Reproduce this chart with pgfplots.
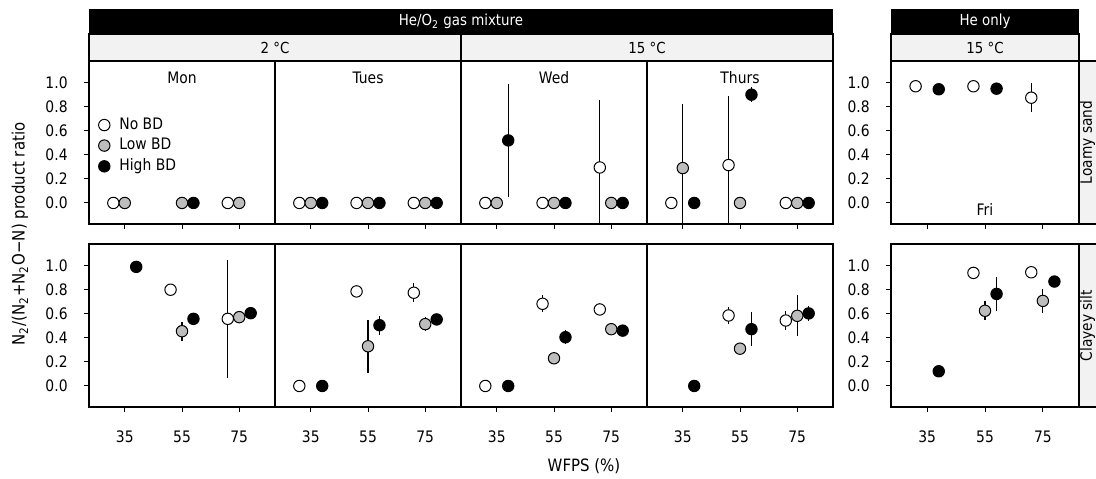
\documentclass[border=0pt]{standalone}
\usepackage{fontspec}
\setmainfont{DejaVu Sans}[FakeStretch=0.88]
\usepackage{pgfplots}
\pgfplotsset{compat=1.18}
\definecolor{stripgray}{HTML}{F2F2F2}
\definecolor{lowgray}{HTML}{BDBDBD}
\newcommand{\tkfont}{\fontsize{7.9}{9}\selectfont}
\newcommand{\stfont}{\fontsize{7.6}{9}\selectfont}
\newcommand{\lbfont}{\fontsize{8.5}{10}\selectfont}
\newcommand{\rsfont}{\fontsize{7.8}{9}\selectfont}

\pgfplotsset{
  panel/.style={
    scale only axis, width=93pt, height=81.5pt, anchor=north west,
    xmin=22.5, xmax=87.5, ymin=-0.175, ymax=1.18,
    axis line style={line width=0.6pt},
    xtick={35,55,75}, xtick pos=bottom, ytick=\empty,
    tick align=outside, major tick length=2.5pt,
    tick style={black, line width=0.5pt},
    tick label style={font=\tkfont, inner sep=0pt},
    /pgf/number format/assume math mode=true,
    xticklabel shift=9.3pt,
  },
  toprow/.style={xticklabels={}},
  leftcol/.style={
    ytick={0,0.2,0.4,0.6,0.8,1}, ytick pos=left, yticklabel shift=8pt,
    yticklabel style={/pgf/number format/.cd, fixed, fixed zerofill, precision=1},
  },
  series/.style={
    only marks, mark=*, black, mark size=2.85pt,
    mark options={fill=#1, draw=black, line width=0.5pt},
    legend image code/.code={\draw[mark repeat=2,mark phase=2,##1] plot coordinates {(0cm,0cm) (0.15cm,0cm) (0.3cm,0cm)};},
    error bars/.cd, y dir=both, y explicit, error mark=none,
    error bar style={line width=0.6pt, black},
  },
  nobd/.style={series=white},
  lowbd/.style={series=lowgray},
  highbd/.style={series=black},
}
% data rows: x  y  error
\newcommand{\pl}[2]{\addplot[#1] table[x=x, y=y, y error=e, row sep=\\] {x y e\\ #2};}

\begin{document}
\begin{tikzpicture}
\useasboundingbox (0pt,0pt) rectangle (548pt,-239pt);

% ---------- strips ----------
\fill[black] (44.5pt,-4.5pt) rectangle (416.5pt,-17pt);
\fill[black] (445.5pt,-4.5pt) rectangle (539.5pt,-17pt);
\node[white, font=\stfont] at (230.5pt,-10.75pt) {He/O\textsubscript{2} gas mixture};
\node[white, font=\stfont] at (492.5pt,-10.75pt) {He only};
\filldraw[fill=stripgray, draw=black, line width=0.6pt] (44.5pt,-17pt) rectangle (230.5pt,-30.5pt);
\filldraw[fill=stripgray, draw=black, line width=0.6pt] (230.5pt,-17pt) rectangle (416.5pt,-30.5pt);
\filldraw[fill=stripgray, draw=black, line width=0.6pt] (445.5pt,-17pt) rectangle (539.5pt,-30.5pt);
\node[font=\stfont] at (137.5pt,-23.75pt) {2 °C};
\node[font=\stfont] at (323.5pt,-23.75pt) {15 °C};
\node[font=\stfont] at (492.5pt,-23.75pt) {15 °C};
\filldraw[fill=stripgray, draw=black, line width=0.6pt] (539.5pt,-30.5pt) rectangle (552pt,-112pt);
\filldraw[fill=stripgray, draw=black, line width=0.6pt] (539.5pt,-122pt) rectangle (552pt,-203.5pt);
\node[rotate=90, anchor=base, font=\rsfont] at (545.9pt,-71.25pt) {Loamy sand};
\node[rotate=90, anchor=base, font=\rsfont] at (545.9pt,-162.75pt) {Clayey silt};

% ---------- axis titles ----------
\node[rotate=90, font=\lbfont] at (10pt,-117pt) {N\textsubscript{2}/(N\textsubscript{2}+N\textsubscript{2}O−N) product ratio};
\node[font=\lbfont] at (292pt,-233pt) {WFPS (\%)};

% ---------- Loamy sand (top row) ----------
\begin{axis}[panel, toprow, leftcol, at={(44.5pt,-30.5pt)},
  legend style={at={(0,1)}, anchor=north west, xshift=4.6pt, yshift=-27pt,
    draw=none, fill=none, font=\tkfont, inner sep=0pt, row sep=0.6pt,
    column sep=3.5pt, nodes={inner sep=1.2pt}},
  legend cell align=left]
\pl{nobd}{31 0 0\\ 71 0 0\\}
\pl{lowbd}{35 0 0\\ 55 0 0\\ 75 0 0\\}
\pl{highbd}{59 0 0\\}
\legend{No BD, Low BD, High BD}
\node[font=\tkfont] at (rel axis cs:0.5,0.898) {Mon};
\end{axis}

\begin{axis}[panel, toprow, at={(137.5pt,-30.5pt)}]
\pl{nobd}{31 0 0\\ 51 0 0\\ 71 0 0\\}
\pl{lowbd}{35 0 0\\ 55 0 0\\ 75 0 0\\}
\pl{highbd}{39 0 0\\ 59 0 0\\ 79 0 0\\}
\node[font=\tkfont] at (rel axis cs:0.5,0.898) {Tues};
\end{axis}

\begin{axis}[panel, toprow, at={(230.5pt,-30.5pt)}]
\pl{nobd}{31 0 0\\ 51 0 0\\ 71 0.295 0.565\\}
\pl{lowbd}{35 0 0\\ 55 0 0\\ 75 0 0\\}
\pl{highbd}{39 0.52 0.47\\ 59 0 0\\ 79 0 0\\}
\node[font=\tkfont] at (rel axis cs:0.5,0.898) {Wed};
\end{axis}

\begin{axis}[panel, toprow, at={(323.5pt,-30.5pt)}]
\pl{nobd}{31 0 0\\ 51 0.315 0.575\\ 71 0 0\\}
\pl{lowbd}{35 0.29 0.535\\ 55 0 0\\ 75 0 0\\}
\pl{highbd}{39 0 0\\ 59 0.90 0.06\\ 79 0 0\\}
\node[font=\tkfont] at (rel axis cs:0.5,0.898) {Thurs};
\end{axis}

\begin{axis}[panel, toprow, leftcol, width=94pt, at={(445.5pt,-30.5pt)}]
\pl{nobd}{31 0.97 0\\ 51 0.97 0\\ 71 0.875 0.12\\}
\pl{highbd}{39 0.945 0\\ 59 0.95 0\\}
\node[font=\tkfont] at (rel axis cs:0.5,0.086) {Fri};
\end{axis}

% ---------- Clayey silt (bottom row) ----------
\begin{axis}[panel, leftcol, at={(44.5pt,-122pt)}]
\pl{nobd}{51 0.80 0.04\\ 71 0.558 0.49\\}
\pl{lowbd}{55 0.455 0.08\\ 75 0.572 0\\}
\pl{highbd}{39 0.99 0\\ 59 0.558 0\\ 79 0.605 0\\}
\end{axis}

\begin{axis}[panel, at={(137.5pt,-122pt)}]
\pl{nobd}{31 0 0\\ 51 0.786 0\\ 71 0.775 0.08\\}
\pl{lowbd}{55 0.33 0.22\\ 75 0.514 0.06\\}
\pl{highbd}{39 0 0\\ 59 0.505 0.08\\ 79 0.553 0\\}
\end{axis}

\begin{axis}[panel, at={(230.5pt,-122pt)}]
\pl{nobd}{31 0 0\\ 51 0.683 0.07\\ 71 0.636 0.05\\}
\pl{lowbd}{55 0.23 0\\ 75 0.472 0.03\\}
\pl{highbd}{39 0 0\\ 59 0.405 0.06\\ 79 0.46 0.04\\}
\end{axis}

\begin{axis}[panel, at={(323.5pt,-122pt)}]
\pl{nobd}{51 0.586 0.07\\ 71 0.544 0.08\\}
\pl{lowbd}{55 0.31 0\\ 75 0.583 0.17\\}
\pl{highbd}{39 0 0\\ 59 0.472 0.14\\ 79 0.603 0.06\\}
\end{axis}

\begin{axis}[panel, leftcol, width=94pt, at={(445.5pt,-122pt)}]
\pl{nobd}{51 0.94 0\\ 71 0.945 0\\}
\pl{lowbd}{55 0.625 0.08\\ 75 0.707 0.1\\}
\pl{highbd}{39 0.122 0\\ 59 0.765 0.14\\ 79 0.868 0\\}
\end{axis}
\end{tikzpicture}
\end{document}
